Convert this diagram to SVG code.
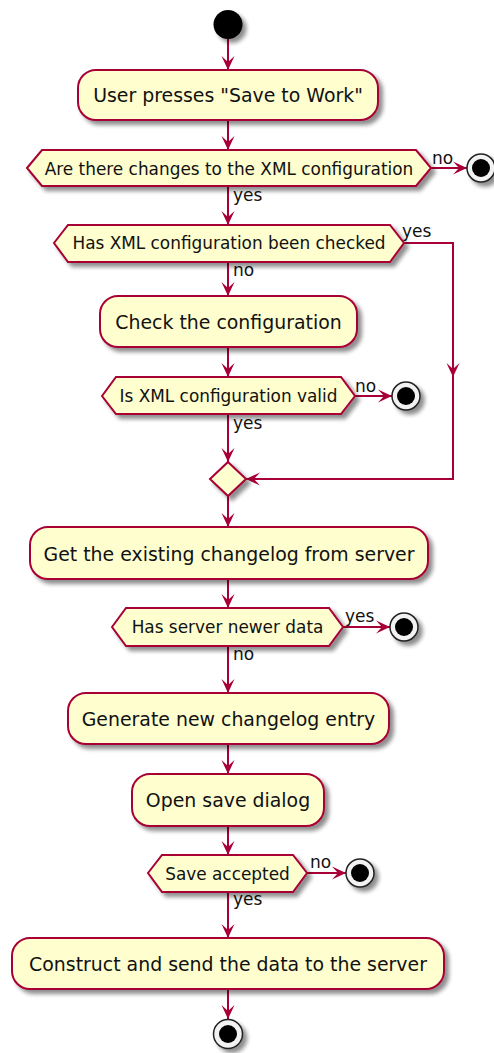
<svg xmlns="http://www.w3.org/2000/svg" width="494" height="1053" viewBox="0 0 494 1053">
<style>
.act{fill:#FEFECE;stroke:#A80036;stroke-width:2;filter:url(#sh)}
.txt{font-family:"DejaVu Sans",sans-serif;font-size:18.9px;fill:#111;text-anchor:middle}
.dtxt{font-family:"DejaVu Sans",sans-serif;font-size:16.9px;fill:#111;text-anchor:middle}
.lbl{font-family:"DejaVu Sans",sans-serif;font-size:17px;fill:#111}
.con{fill:none;stroke:#A80036;stroke-width:2;marker-end:url(#ah)}
.endo{fill:#f2f2f2;stroke:#222;stroke-width:1.5;filter:url(#sh)}
</style>
<defs>
<filter id="sh" x="-20%" y="-20%" width="150%" height="160%">
<feGaussianBlur in="SourceAlpha" stdDeviation="2.2"/>
<feOffset dx="4" dy="4" result="b"/>
<feComponentTransfer><feFuncA type="linear" slope="0.45"/></feComponentTransfer>
<feMerge><feMergeNode/><feMergeNode in="SourceGraphic"/></feMerge>
</filter>
<marker id="ah" markerUnits="userSpaceOnUse" viewBox="-15 -8 16 16" refX="0" refY="0" markerWidth="16" markerHeight="16" orient="auto">
<path d="M0,0 L-14,-6.5 L-8,0 L-14,6.5 Z" fill="#A80036"/>
</marker>
</defs>
<g id="connectors">
<path class="con" d="M228,39 V70"/>
<path class="con" d="M228,120 V150"/>
<path class="con" d="M431,168 H467"/>
<path class="con" d="M228,186 V225"/>
<path class="con" d="M404,243 H453 V377"/>
<path class="con" d="M453,377 V479 H246"/>
<path class="con" d="M228,262 V296"/>
<path class="con" d="M228,347 V377"/>
<path class="con" d="M355,396 H392"/>
<path class="con" d="M228,414 V462"/>
<path class="con" d="M228,496 V527"/>
<path class="con" d="M228,579 V608"/>
<path class="con" d="M343,627 H390"/>
<path class="con" d="M228,646 V693"/>
<path class="con" d="M228,744 V774"/>
<path class="con" d="M228,826 V855"/>
<path class="con" d="M307,873 H346"/>
<path class="con" d="M228,892 V938"/>
<path class="con" d="M228,989 V1019"/>
<text class="lbl" x="432" y="164">no</text>
<text class="lbl" x="233" y="201">yes</text>
<text class="lbl" x="402" y="237">yes</text>
<text class="lbl" x="233" y="276">no</text>
<text class="lbl" x="355" y="392">no</text>
<text class="lbl" x="233" y="429">yes</text>
<text class="lbl" x="345" y="622">yes</text>
<text class="lbl" x="233" y="660">no</text>
<text class="lbl" x="310" y="868">no</text>
<text class="lbl" x="233" y="905">yes</text>
</g>
<g id="start"><circle cx="228" cy="24.5" r="14.5" fill="#000" filter="url(#sh)"/></g>
<g id="act1"><rect class="act" x="78" y="70" width="300" height="50" rx="18"/><text class="txt" x="228" y="102">User presses "Save to Work"</text></g>
<g id="dec1"><polygon class="act" points="27,168 42,150 416,150 431,168 416,186 42,186"/><text class="dtxt" x="229" y="174.5">Are there changes to the XML configuration</text></g>
<g id="end1"><circle class="endo" cx="481" cy="168" r="14"/><circle cx="481" cy="168" r="9" fill="#000"/></g>
<g id="dec2"><polygon class="act" points="54,243 68,225 390,225 404,243 390,262 68,262"/><text class="dtxt" x="229" y="249">Has XML configuration been checked</text></g>
<g id="act2"><rect class="act" x="100" y="296" width="257" height="51" rx="18"/><text class="txt" x="228.5" y="329">Check the configuration</text></g>
<g id="dec3"><polygon class="act" points="102,396 116,377 341,377 355,396 341,414 116,414"/><text class="dtxt" x="228.5" y="402">Is XML configuration valid</text></g>
<g id="end2"><circle class="endo" cx="406" cy="396" r="14"/><circle cx="406" cy="396" r="9" fill="#000"/></g>
<g id="merge"><polygon class="act" points="228,462 246,479 228,496 210,479"/></g>
<g id="act3"><rect class="act" x="30" y="527" width="398" height="52" rx="18"/><text class="txt" x="229" y="560.5">Get the existing changelog from server</text></g>
<g id="dec4"><polygon class="act" points="112,627 126,608 329,608 343,627 329,646 126,646"/><text class="dtxt" x="227.5" y="633">Has server newer data</text></g>
<g id="end3"><circle class="endo" cx="404" cy="627" r="14"/><circle cx="404" cy="627" r="9" fill="#000"/></g>
<g id="act4"><rect class="act" x="68" y="693" width="321" height="51" rx="18"/><text class="txt" x="228.5" y="725.5">Generate new changelog entry</text></g>
<g id="act5"><rect class="act" x="132" y="774" width="192" height="52" rx="18"/><text class="txt" x="228" y="806.5">Open save dialog</text></g>
<g id="dec5"><polygon class="act" points="148,873 162,855 293,855 307,873 293,892 162,892"/><text class="dtxt" x="227.5" y="879.5">Save accepted</text></g>
<g id="end4"><circle class="endo" cx="360" cy="873" r="14"/><circle cx="360" cy="873" r="9" fill="#000"/></g>
<g id="act6"><rect class="act" x="12" y="938" width="432" height="51" rx="18"/><text class="txt" x="228" y="970.5">Construct and send the data to the server</text></g>
<g id="end5"><circle class="endo" cx="228" cy="1034" r="14.5"/><circle cx="228" cy="1034" r="9" fill="#000"/></g>
</svg>
